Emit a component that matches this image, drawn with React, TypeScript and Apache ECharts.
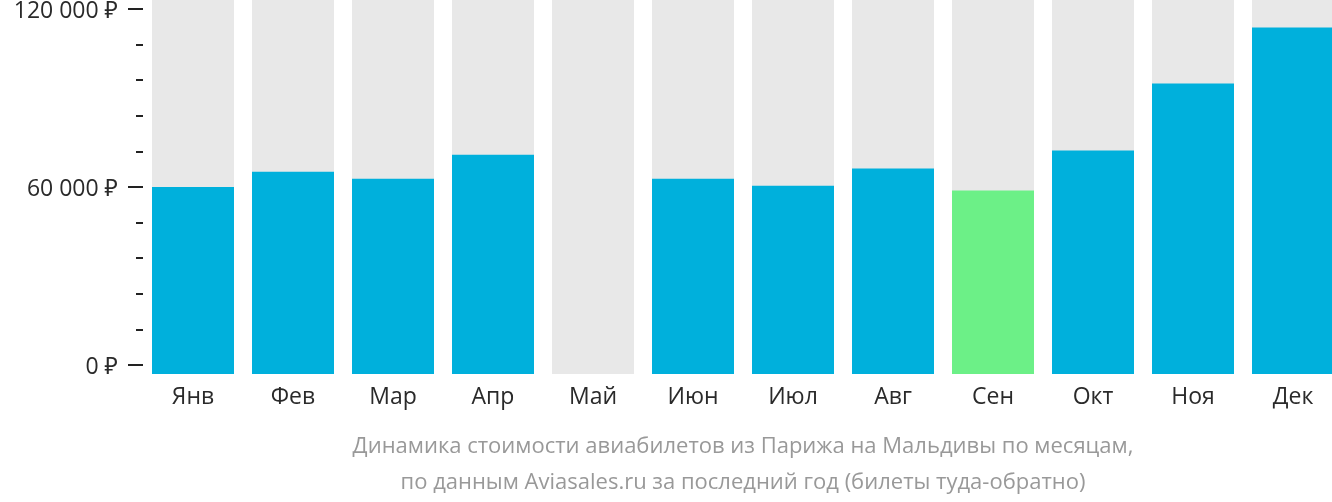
import React, { useEffect, useRef } from "react";
import * as echarts from "echarts";

const months = ["Янв", "Фев", "Мар", "Апр", "Май", "Июн", "Июл", "Авг", "Сен", "Окт", "Ноя", "Дек"];
const prices: (number | null)[] = [60000, 65100, 62800, 70900, null, 62800, 60400, 66200, 58800, 72300, 94900, 113800];
const majorTicks = [0, 60000, 120000];
const minorTicks = [12000, 24000, 36000, 48000, 72000, 84000, 96000, 108000];
const captionLines = [
  "Динамика стоимости авиабилетов из Парижа на Мальдивы по месяцам,",
  "по данным Aviasales.ru за последний год (билеты туда-обратно)",
];

const AXIS_MIN = -3034;
const AXIS_MAX = 123034;
const BLUE = "#00b0dc";
const GREEN = "#6cf087";
const FONT = "'Open Sans', 'Noto Sans', sans-serif";

export default function App() {
  const ref = useRef<HTMLDivElement>(null);
  useEffect(() => {
    if (!ref.current) return;
    const chart = echarts.init(ref.current, null, { renderer: "svg" });
    const valid = prices.filter((p) => p != null) as number[];
    const minPrice = Math.min(...valid);
    const colorOf = (p: number | null) => (p === minPrice ? GREEN : BLUE);
    const yCommon = {
      type: "value",
      min: AXIS_MIN,
      max: AXIS_MAX,
      position: "left",
      offset: 0,
      splitLine: { show: false },
      axisLine: { show: false },
    };
    chart.setOption({
      animation: false,
      grid: { left: 143, top: 0, width: 1200, height: 374, containLabel: false, outerBoundsMode: "none" },
      xAxis: {
        type: "category",
        data: months,
        axisLine: { show: false },
        axisTick: { show: false },
        axisLabel: { color: "#2a2a2a", fontSize: 23, fontFamily: FONT, margin: 9 },
      },
      yAxis: [
        {
          ...yCommon,
          axisTick: { show: true, customValues: majorTicks, length: 15, lineStyle: { color: "#222", width: 2 } },
          axisLabel: {
            show: true,
            customValues: majorTicks,
            margin: 25,
            color: "#2a2a2a",
            fontSize: 23,
            lineHeight: 16,
            padding: [2, 0, 0, 0],
            fontFamily: FONT,
            formatter: (v: number) => String(v).replace(/\B(?=(\d{3})+(?!\d))/g, " ") + " ₽",
          },
        },
        {
          ...yCommon,
          axisTick: { show: true, customValues: minorTicks, length: 7, lineStyle: { color: "#222", width: 2 } },
          axisLabel: { show: false },
        },
      ],
      series: [
        {
          type: "bar",
          yAxisIndex: 0,
          barWidth: 82,
          barGap: "-100%",
          showBackground: true,
          backgroundStyle: { color: "#e8e8e8" },
          data: prices.map((p) => (p == null ? null : { value: p, itemStyle: { color: colorOf(p) } })),
        },
        {
          type: "bar",
          yAxisIndex: 0,
          barWidth: 82,
          barGap: "-100%",
          data: prices.map((p) => (p == null ? null : { value: AXIS_MIN, itemStyle: { color: colorOf(p) } })),
        },
      ],
      graphic: captionLines.map((t, i) => ({
        type: "text",
        x: 743,
        y: 444 + i * 36,
        style: {
          text: t,
          fill: "#999",
          fontSize: 22,
          fontFamily: FONT,
          textAlign: "center",
          textVerticalAlign: "middle",
        },
      })),
    });
    return () => chart.dispose();
  }, []);
  return (
    <div style={{ position: "fixed", left: 0, top: 0, width: 1332, height: 502, overflow: "hidden" }}>
      <div ref={ref} style={{ width: 1345, height: 502 }} />
    </div>
  );
}
